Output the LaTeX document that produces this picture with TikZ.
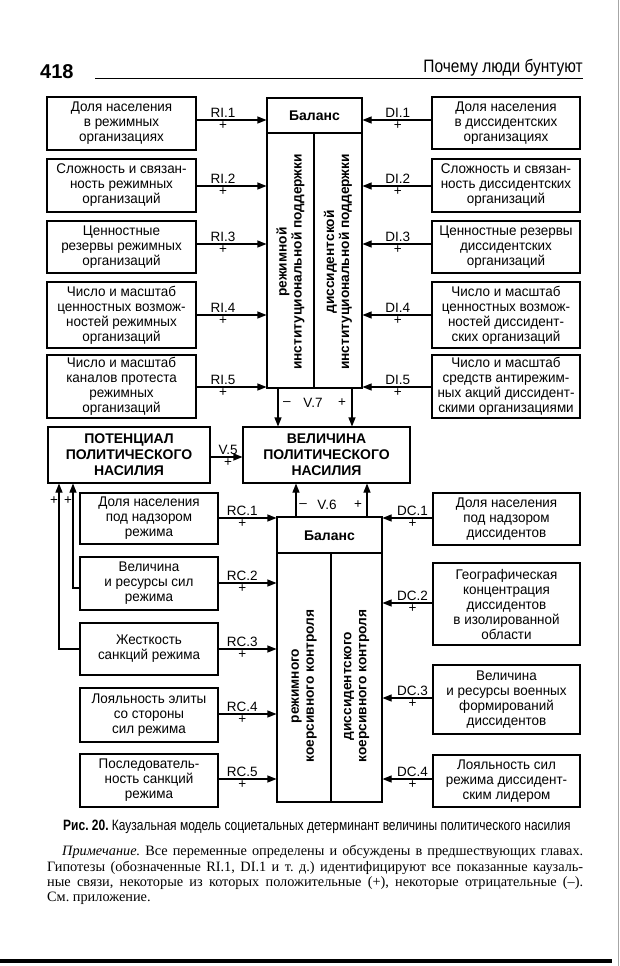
\documentclass[tikz,border=0pt]{standalone}
\usepackage{fontspec}
\setmainfont{Liberation Sans}
\newfontfamily\serifnote{Liberation Serif}
\newfontfamily\condfont[FakeStretch=0.80]{Liberation Sans}
\newfontfamily\headfont[FakeStretch=0.86]{Liberation Sans}
\newfontfamily\boxfont[FakeStretch=0.96]{Liberation Sans}
\usetikzlibrary{arrows.meta}
\begin{document}
\frenchspacing
\begin{tikzpicture}[x=1pt,y=-1pt,
  every node/.style={inner sep=0pt},
  box/.style={draw, line width=1.1pt, align=center, font=\boxfont\fontsize{14}{15}\selectfont},
  bbox/.style={draw, line width=1.1pt, align=center, font=\bfseries\fontsize{14}{16}\selectfont},
  arr/.style={line width=1.1pt, -{Triangle[length=9pt,width=7pt]}},
  lab/.style={font=\fontsize{13.5}{15}\selectfont, inner sep=1.5pt},
  vtext/.style={rotate=90, align=center, font=\bfseries\fontsize{13.7}{15}\selectfont},
  ln/.style={line width=1.1pt}]
\useasboundingbox[fill=white] (0,0) rectangle (620,966);

% header
\node[anchor=base west, font=\bfseries\fontsize{20}{22}\selectfont] (pg) at (40,78) {418};
\node[anchor=base east, font=\headfont\fontsize{18}{20}\selectfont] (ht) at (583,73) {Почему люди бунтуют};
\draw[line width=0.9pt] (95,78) -- (583,78);

% top left boxes
\node[box, minimum width=149pt, minimum height=53pt] (L1) at (121.5,123.5) {Доля населения\\в режимных\\организациях};
\node[box, minimum width=149pt, minimum height=53pt] (L2) at (121.5,185.5) {Сложность и связан-\\ность режимных\\организаций};
\node[box, minimum width=149pt, minimum height=52pt] (L3) at (121.5,247) {Ценностные\\резервы режимных\\организаций};
\node[box, minimum width=149pt, minimum height=66pt] (L4) at (121.5,315) {Число и масштаб\\ценностных возмож-\\ностей режимных\\организаций};
\node[box, minimum width=149pt, minimum height=63pt] (L5) at (121.5,386.5) {Число и масштаб\\каналов протеста\\режимных\\организаций};

% top right boxes
\node[box, minimum width=148pt, minimum height=52pt] (R1) at (506,123) {Доля населения\\в диссидентских\\организациях};
\node[box, minimum width=148pt, minimum height=53pt] (R2) at (506,185.5) {Сложность и связан-\\ность диссидентских\\организаций};
\node[box, minimum width=148pt, minimum height=52pt] (R3) at (506,247) {Ценностные резервы\\диссидентских\\организаций};
\node[box, minimum width=148pt, minimum height=66pt] (R4) at (506,315) {Число и масштаб\\ценностных возмож-\\ностей диссидент-\\ских организаций};
\node[box, minimum width=148pt, minimum height=63pt] (R5) at (506,386.5) {Число и масштаб\\средств антирежим-\\ных акций диссидент-\\скими организациями};

% top central box
\node[draw, line width=1.1pt, minimum width=95pt, minimum height=290pt] (TC) at (314.5,243) {};
\draw[ln] (TC.west |- 0,133) -- (TC.east |- 0,133);
\draw[ln] (314,133) -- (TC.south -| 314,0);
\node[font=\bfseries\fontsize{14}{16}\selectfont] (TCh) at (314.5,116) {Баланс};
\node[vtext] (TCl) at (290.5,262) {режимной\\институциональной поддержки};
\node[vtext] (TCr) at (338,262) {диссидентской\\институциональной поддержки};

% RI arrows
\foreach \n/\y in {1/120,2/186,3/244,4/315,5/387}{
  \draw[arr] (L\n.east |- 0,\y) -- node[lab,above,pos=.38]{RI.\n} node[lab,below,pos=.38]{+} (TC.west |- 0,\y);
}
% DI arrows
\foreach \n/\y in {1/120,2/186,3/244,4/315,5/387}{
  \draw[arr] (R\n.west |- 0,\y) -- node[lab,above,pos=.49]{DI.\n} node[lab,below,pos=.49]{+} (TC.east |- 0,\y);
}

% middle boxes
\node[bbox, minimum width=162pt, minimum height=56pt] (POT) at (129,455) {ПОТЕНЦИАЛ\\ПОЛИТИЧЕСКОГО\\НАСИЛИЯ};
\node[bbox, minimum width=167pt, minimum height=56pt] (VEL) at (326.5,455) {ВЕЛИЧИНА\\ПОЛИТИЧЕСКОГО\\НАСИЛИЯ};
\draw[arr] (POT.east |- 0,457) -- node[lab,above,pos=.55]{V.5} node[lab,below,pos=.55]{+} (VEL.west |- 0,457);

% V.7
\draw[arr] (TC.south -| 278,0) -- (VEL.north -| 278,0);
\draw[arr] (TC.south -| 352,0) -- (VEL.north -| 352,0);
\node[lab] (v7a) at (287,404) {–};
\node[lab] (v7) at (313,403) {V.7};
\node[lab] (v7b) at (342,403) {+};

% bottom central box
\node[draw, line width=1.1pt, minimum width=105pt, minimum height=285pt] (BC) at (329.5,659.5) {};
\draw[ln] (BC.west |- 0,553) -- (BC.east |- 0,553);
\draw[ln] (331,553) -- (BC.south -| 331,0);
\node[font=\bfseries\fontsize{14}{16}\selectfont] (BCh) at (329.5,536) {Баланс};
\node[vtext] (BCl) at (304,686) {режимного\\коерсивного контроля};
\node[vtext] (BCr) at (356.5,686) {диссидентского\\коерсивного контроля};

% V.6
\draw[arr] (BC.north -| 296,0) -- (VEL.south -| 296,0);
\draw[arr] (BC.north -| 367,0) -- (VEL.south -| 367,0);
\node[lab] (v6a) at (303,506) {–};
\node[lab] (v6) at (327,505) {V.6};
\node[lab] (v6b) at (358,505) {+};

% bottom left boxes
\node[box, minimum width=138pt, minimum height=51pt] (B1) at (149,518.5) {Доля населения\\под надзором\\режима};
\node[box, minimum width=138pt, minimum height=53pt] (B2) at (149,583.5) {Величина\\и ресурсы сил\\режима};
\node[box, minimum width=138pt, minimum height=52pt] (B3) at (149,649) {Жесткость\\санкций режима};
\node[box, minimum width=138pt, minimum height=54pt] (B4) at (149,715) {Лояльность элиты\\со стороны\\сил режима};
\node[box, minimum width=138pt, minimum height=53pt] (B5) at (149,780.5) {Последователь-\\ность санкций\\режима};

\foreach \n/\y in {1/518,2/583,3/649,4/714,5/779}{
  \draw[arr] (B\n.east |- 0,\y) -- node[lab,above,pos=.41]{RC.\n} node[lab,below,pos=.41]{+} (BC.west |- 0,\y);
}

% bottom right boxes
\node[box, minimum width=147pt, minimum height=52pt] (D1) at (506.5,519) {Доля населения\\под надзором\\диссидентов};
\node[box, minimum width=147pt, minimum height=82pt] (D2) at (506.5,604) {Географическая\\концентрация\\диссидентов\\в изолированной\\области};
\node[box, minimum width=147pt, minimum height=69pt] (D3) at (506.5,699.5) {Величина\\и ресурсы военных\\формирований\\диссидентов};
\node[box, minimum width=147pt, minimum height=52pt] (D4) at (506.5,781) {Лояльность сил\\режима диссидент-\\ским лидером};

\foreach \n/\y in {1/518,2/603,3/698,4/779}{
  \draw[arr] (D\n.west |- 0,\y) -- node[lab,above,pos=.4]{DC.\n} node[lab,below,pos=.4]{+} (BC.east |- 0,\y);
}

% feedback to potential
\draw[arr] (B2.west |- 0,588) -- (73,588) -- (73,0 |- POT.south);
\draw[arr] (B3.west |- 0,649) -- (59,649) -- (59,0 |- POT.south);
\node[lab] (fb1) at (68,501) {+};
\node[lab] (fb2) at (54,501) {+};

% caption
\node[anchor=base west, font=\condfont\fontsize{15}{18}\selectfont] (cap) at (63,830) {\textbf{Рис. 20.} Каузальная модель социетальных детерминант величины политического насилия};

% note
\begin{scope}[every node/.style={anchor=base west, inner sep=0pt, font=\serifnote\fontsize{14.3}{15}\selectfont}]
\node (n1) at (62,855) {\makebox[521pt][s]{\textit{Примечание.} Все переменные определены и обсуждены в предшествующих главах.}};
\node (n2) at (47,871) {\makebox[536pt][s]{Гипотезы (обозначенные RI.1, DI.1 и т.~д.) идентифицируют все показанные каузаль-}};
\node (n3) at (47,886) {\makebox[536pt][s]{ные связи, некоторые из которых положительные (+), некоторые отрицательные (–).}};
\node (n4) at (47,901) {См. приложение.};
\end{scope}

% page edge and bottom rule
\draw[line width=4pt] (0,961) -- (612,961);
\draw[line width=0.6pt, black!35] (618.5,0) -- (618.5,966);
\end{tikzpicture}
\end{document}
